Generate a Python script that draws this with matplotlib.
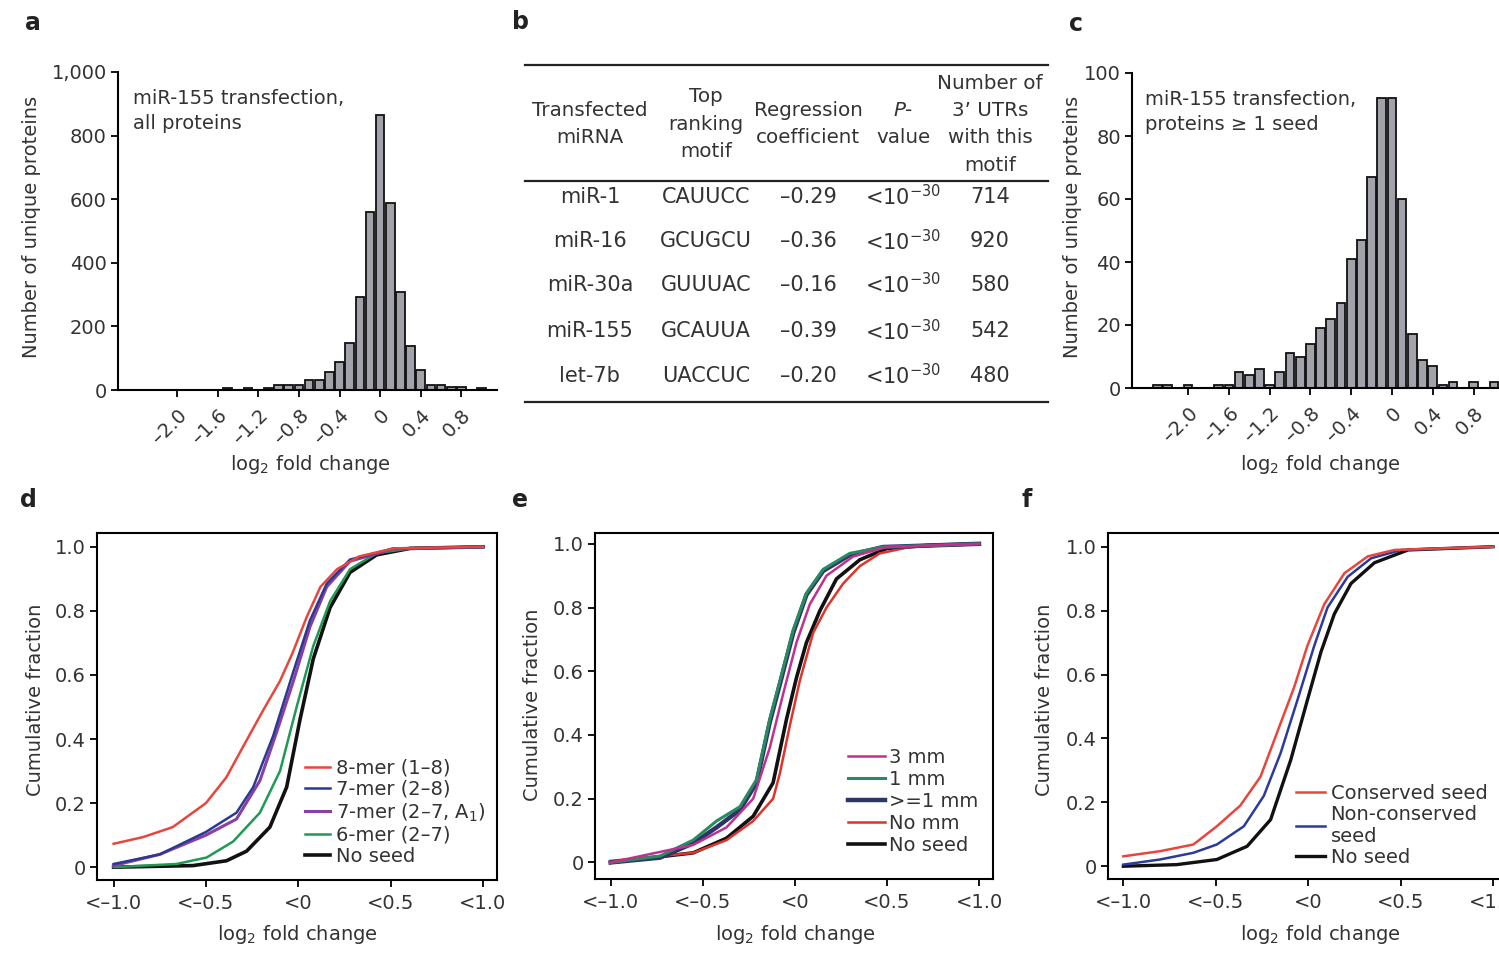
import matplotlib
matplotlib.use('Agg')
from matplotlib import pyplot as plt

# the reference text is wide and short, DejaVu Sans matches its proportions best
plt.rcParams['font.family'] = ['DejaVu Sans']
plt.rcParams['mathtext.fontset'] = 'dejavusans'
plt.rcParams['text.color'] = '#333333'
plt.rcParams['xtick.labelcolor'] = '#333333'
plt.rcParams['ytick.labelcolor'] = '#333333'
FS = 14
plt.rcParams['font.size'] = FS

W, H = 1499, 965

# ---- panel a: miR-155, all proteins ----
a_bins = [-1.5, -1.4, -1.3, -1.2, -1.1, -1.0, -0.9, -0.8, -0.7, -0.6, -0.5, -0.4, -0.3,
          -0.2, -0.1, 0.0, 0.1, 0.2, 0.3, 0.4, 0.5, 0.6, 0.7, 0.8, 0.9, 1.0]
a_counts = [5, 0, 5, 0, 5, 16, 16, 16, 31, 31, 58, 89, 148,
            293, 561, 865, 587, 309, 138, 63, 16, 16, 8, 8, 0, 5]

# ---- panel c: miR-155, proteins >= 1 seed ----
c_bins = [-2.3, -2.2, -2.1, -2.0, -1.9, -1.8, -1.7, -1.6, -1.5, -1.4, -1.3, -1.2, -1.1,
          -1.0, -0.9, -0.8, -0.7, -0.6, -0.5, -0.4, -0.3, -0.2, -0.1, 0.0, 0.1, 0.2,
          0.3, 0.4, 0.5, 0.6, 0.7, 0.8, 0.9, 1.0]
c_counts = [1, 1, 0, 1, 0, 0, 1, 1, 5, 4, 6, 1, 5,
            11, 10, 14, 19, 22, 27, 41, 47, 67, 92, 92, 60, 17,
            9, 7, 1, 2, 0, 2, 0, 2]

hist_ticks = [-2.0, -1.6, -1.2, -0.8, -0.4, 0.0, 0.4, 0.8]
hist_ticklabels = ['\u20132.0', '\u20131.6', '\u20131.2', '\u20130.8', '\u20130.4', '0', '0.4', '0.8']

# ---- panel b: table ----
tab_header = ['Transfected\nmiRNA', 'Top\nranking\nmotif', 'Regression\ncoefficient',
              '$\\it{P}$-\nvalue', 'Number of\n3\u2019 UTRs\nwith this\nmotif']
tab_mirna = ['miR-1', 'miR-16', 'miR-30a', 'miR-155', 'let-7b']
tab_motif = ['CAUUCC', 'GCUGCU', 'GUUUAC', 'GCAUUA', 'UACCUC']
tab_coef = ['\u20130.29', '\u20130.36', '\u20130.16', '\u20130.39', '\u20130.20']
tab_pval = ['<10$^{-30}$'] * 5
tab_nutr = ['714', '920', '580', '542', '480']

# ---- cumulative curves ----
cdf_ticks = [-1.0, -0.5, 0.0, 0.5, 1.0]
cdf_ticklabels = ['<\u20131.0', '<\u20130.5', '<0', '<0.5', '<1.0']
cdf_yticks = [0, 0.2, 0.4, 0.6, 0.8, 1.0]
cdf_yticklabels = ['0', '0.2', '0.4', '0.6', '0.8', '1.0']

# panel d
d_8mer_x = [-1.0, -0.84, -0.68, -0.50, -0.39, -0.30, -0.19, -0.10, -0.03, 0.045, 0.12, 0.21, 0.33, 0.52, 1.0]
d_8mer_y = [0.073, 0.094, 0.125, 0.20, 0.28, 0.375, 0.49, 0.58, 0.67, 0.78, 0.875, 0.93, 0.97, 0.995, 1.0]
d_7mer28_x = [-1.0, -0.75, -0.50, -0.335, -0.244, -0.136, -0.027, 0.063, 0.154, 0.28, 0.515, 1.0]
d_7mer28_y = [0.01, 0.04, 0.11, 0.17, 0.25, 0.41, 0.61, 0.77, 0.885, 0.96, 0.995, 1.0]
d_7merA1_x = [-1.0, -0.75, -0.50, -0.335, -0.208, -0.118, -0.027, 0.063, 0.154, 0.28, 0.515, 1.0]
d_7merA1_y = [0.005, 0.04, 0.10, 0.15, 0.27, 0.42, 0.58, 0.75, 0.875, 0.955, 0.993, 1.0]
d_6mer_x = [-1.0, -0.66, -0.497, -0.353, -0.208, -0.099, -0.009, 0.081, 0.172, 0.28, 0.425, 0.606, 1.0]
d_6mer_y = [0.0, 0.01, 0.03, 0.08, 0.17, 0.30, 0.50, 0.69, 0.83, 0.93, 0.98, 0.995, 1.0]
d_noseed_x = [-1.0, -0.57, -0.389, -0.28, -0.154, -0.063, 0.009, 0.081, 0.172, 0.28, 0.425, 0.606, 1.0]
d_noseed_y = [0.0, 0.005, 0.02, 0.05, 0.125, 0.25, 0.46, 0.65, 0.81, 0.92, 0.975, 0.995, 1.0]

# panel e
e_3mm_x = [-1.0, -0.552, -0.371, -0.226, -0.136, -0.063, 0.009, 0.081, 0.172, 0.316, 0.497, 1.0]
e_3mm_y = [0.0, 0.055, 0.11, 0.20, 0.36, 0.53, 0.69, 0.81, 0.90, 0.96, 0.99, 1.0]
e_1mm_x = [-1.0, -0.732, -0.552, -0.425, -0.298, -0.208, -0.136, -0.081, -0.009, 0.063, 0.154, 0.298, 0.479, 1.0]
e_1mm_y = [0.0, 0.02, 0.07, 0.13, 0.175, 0.26, 0.45, 0.57, 0.73, 0.845, 0.92, 0.97, 0.99, 1.0]
e_ge1mm_x = [-1.0, -0.732, -0.552, -0.425, -0.298, -0.208, -0.136, -0.081, -0.009, 0.063, 0.154, 0.298, 0.479, 1.0]
e_ge1mm_y = [0.0, 0.015, 0.06, 0.11, 0.165, 0.25, 0.44, 0.56, 0.72, 0.84, 0.915, 0.965, 0.99, 1.0]
e_nomm_x = [-1.0, -0.552, -0.371, -0.226, -0.118, -0.081, -0.027, 0.027, 0.099, 0.172, 0.262, 0.353, 0.461, 0.624, 1.0]
e_nomm_y = [0.005, 0.03, 0.07, 0.13, 0.20, 0.28, 0.43, 0.57, 0.72, 0.80, 0.875, 0.93, 0.97, 0.99, 1.0]
e_noseed_x = [-1.0, -0.552, -0.371, -0.226, -0.118, -0.045, 0.009, 0.063, 0.136, 0.226, 0.353, 0.497, 0.714, 1.0]
e_noseed_y = [0.0, 0.03, 0.076, 0.145, 0.25, 0.45, 0.58, 0.69, 0.79, 0.89, 0.95, 0.985, 0.995, 1.0]

# panel f
f_cons_x = [-1.0, -0.802, -0.621, -0.494, -0.367, -0.258, -0.167, -0.076, -0.004, 0.087, 0.196, 0.323, 0.468, 1.0]
f_cons_y = [0.031, 0.047, 0.068, 0.125, 0.19, 0.28, 0.42, 0.56, 0.69, 0.82, 0.917, 0.97, 0.99, 1.0]
f_noncons_x = [-1.0, -0.802, -0.621, -0.494, -0.348, -0.240, -0.149, -0.058, 0.033, 0.105, 0.214, 0.341, 0.505, 1.0]
f_noncons_y = [0.005, 0.021, 0.042, 0.068, 0.125, 0.22, 0.354, 0.52, 0.69, 0.81, 0.906, 0.964, 0.99, 1.0]
f_noseed_x = [-1.0, -0.711, -0.494, -0.330, -0.203, -0.094, -0.004, 0.069, 0.142, 0.232, 0.359, 0.541, 1.0]
f_noseed_y = [0.0, 0.005, 0.021, 0.0625, 0.146, 0.333, 0.52, 0.67, 0.79, 0.885, 0.95, 0.99, 1.0]


def box(x0, y0, x1, y1):
    """pixel box (top-left origin) -> figure fraction rect"""
    return [x0 / W, 1 - y1 / H, (x1 - x0) / W, (y1 - y0) / H]


def put(x, y, s, **kw):
    kw.setdefault('ha', 'center')
    kw.setdefault('va', 'center')
    fig.text(x / W, 1 - y / H, s, **kw)


def hist_panel(rect, bins, counts, xlim, ylim, yticks, yticklabels):
    ax = fig.add_axes(rect)
    ax.bar(bins, counts, width=0.085, color='#a2a2ab', edgecolor='#111111', linewidth=1.3)
    ax.set_xlim(*xlim)
    ax.set_ylim(*ylim)
    for side in ('top', 'right'):
        ax.spines[side].set_visible(False)
    for side in ('left', 'bottom'):
        ax.spines[side].set_linewidth(1.5)
    ax.set_xticks(hist_ticks)
    ax.set_xticklabels(hist_ticklabels, rotation=45, ha='right', va='top', rotation_mode='anchor')
    ax.set_yticks(yticks)
    ax.set_yticklabels(yticklabels)
    ax.tick_params(direction='out', length=5, width=1.3, labelsize=FS, pad=3)
    ax.tick_params(axis='x', pad=6)
    return ax


def cdf_panel(rect, xlim, ylim):
    ax = fig.add_axes(rect)
    ax.set_xlim(*xlim)
    ax.set_ylim(*ylim)
    for side in ax.spines:
        ax.spines[side].set_linewidth(1.5)
    ax.set_xticks(cdf_ticks)
    ax.set_xticklabels(cdf_ticklabels)
    ax.set_yticks(cdf_yticks)
    ax.set_yticklabels(cdf_yticklabels)
    ax.tick_params(direction='out', length=5, width=1.3, labelsize=FS, pad=3)
    ax.tick_params(axis='x', pad=5)
    return ax


fig = plt.figure(figsize=(W / 100, H / 100), dpi=100)

# a
ax_a = hist_panel(box(118, 72, 497, 390), a_bins, a_counts, (-2.58, 1.15), (0, 1000),
                  [0, 200, 400, 600, 800, 1000], ['0', '200', '400', '600', '800', '1,000'])
put(133, 111, 'miR-155 transfection,\nall proteins', ha='left', linespacing=1.45)
put(32, 227, 'Number of unique proteins', rotation=90)
put(310, 464, r'log$_2$ fold change')

# c
ax_c = hist_panel(box(1132, 73, 1499, 388), c_bins, c_counts, (-2.55, 1.05), (0, 100),
                  [0, 20, 40, 60, 80, 100], ['0', '20', '40', '60', '80', '100'])
put(1145, 112, 'miR-155 transfection,\nproteins \u2265 1 seed', ha='left', linespacing=1.4)
put(1072, 227, 'Number of unique proteins', rotation=90)
put(1320, 464, r'log$_2$ fold change')

# b: table
ax_b = fig.add_axes(box(525, 60, 1048, 405))
ax_b.set_xlim(0, 1)
ax_b.set_ylim(1, 0)
ax_b.axis('off')
col_x = [0.124, 0.346, 0.541, 0.723, 0.889]
for yy in (0.0145, 0.351, 0.991):
    ax_b.plot([0, 1], [yy, yy], color='#222222', lw=1.6, clip_on=False)
for cx, txt in zip(col_x, tab_header):
    ax_b.text(cx, 0.186, txt, ha='center', va='center', linespacing=1.55, fontsize=14.3)
row_y = [0.397, 0.525, 0.652, 0.786, 0.916]
for i, ry in enumerate(row_y):
    for cx, txt in zip(col_x, [tab_mirna[i], tab_motif[i], tab_coef[i], tab_pval[i], tab_nutr[i]]):
        ax_b.text(cx, ry, txt, ha='center', va='center', fontsize=15)

leg_kw = dict(loc='upper left', frameon=False, borderpad=0, borderaxespad=0, fontsize=FS)

# d
ax_d = cdf_panel(box(97, 533, 497, 880), (-1.09, 1.076), (-0.04, 1.043))
ax_d.plot(d_noseed_x, d_noseed_y, color='#111111', lw=2.6, label='No seed')
ax_d.plot(d_6mer_x, d_6mer_y, color='#1f9a55', lw=1.8, label='6-mer (2\u20137)')
ax_d.plot(d_7merA1_x, d_7merA1_y, color='#8a3fa5', lw=2.2, label='7-mer (2\u20137, A$_1$)')
ax_d.plot(d_7mer28_x, d_7mer28_y, color='#2a3a8f', lw=1.8, label='7-mer (2\u20138)')
ax_d.plot(d_8mer_x, d_8mer_y, color='#e8453c', lw=1.8, label='8-mer (1\u20138)')
h, l = ax_d.get_legend_handles_labels()
ax_d.legend(h[::-1], l[::-1], bbox_to_anchor=(0.52, 0.35), handlelength=1.3,
            handletextpad=0.3, labelspacing=0.12, **leg_kw)
put(36, 700, 'Cumulative fraction', rotation=90)
put(297, 935, r'log$_2$ fold change')

# e
ax_e = cdf_panel(box(595, 533, 993, 879), (-1.085, 1.076), (-0.052, 1.034))
ax_e.plot(e_noseed_x, e_noseed_y, color='#111111', lw=2.6, label='No seed')
ax_e.plot(e_nomm_x, e_nomm_y, color='#e0332b', lw=1.8, label='No mm')
ax_e.plot(e_ge1mm_x, e_ge1mm_y, color='#2c3568', lw=3.2, label='>=1 mm')
ax_e.plot(e_1mm_x, e_1mm_y, color='#2a8a60', lw=2.2, label='1 mm')
ax_e.plot(e_3mm_x, e_3mm_y, color='#c0308f', lw=1.8, label='3 mm')
h, l = ax_e.get_legend_handles_labels()
ax_e.legend(h[::-1], l[::-1], bbox_to_anchor=(0.635, 0.378), handlelength=1.9,
            handletextpad=0.2, labelspacing=0.15, **leg_kw)
put(532, 705, 'Cumulative fraction', rotation=90)
put(795, 935, r'log$_2$ fold change')

# f
ax_f = cdf_panel(box(1108, 533, 1507, 879), (-1.083, 1.076), (-0.04, 1.043))
ax_f.plot(f_noseed_x, f_noseed_y, color='#111111', lw=2.4, label='No seed')
ax_f.plot(f_noncons_x, f_noncons_y, color='#2b3b9a', lw=1.8, label='Non-conserved\nseed')
ax_f.plot(f_cons_x, f_cons_y, color='#e8453c', lw=1.8, label='Conserved seed')
h, l = ax_f.get_legend_handles_labels()
ax_f.legend(h[::-1], l[::-1], bbox_to_anchor=(0.47, 0.275), handlelength=1.5,
            handletextpad=0.3, labelspacing=0.1, **leg_kw)
put(1045, 700, 'Cumulative fraction', rotation=90)
put(1320, 935, r'log$_2$ fold change')

# panel letters
for x, y, s in [(33, 23, 'a'), (521, 22, 'b'), (1076, 24, 'c'),
                (28, 500, 'd'), (520, 500, 'e'), (1027, 500, 'f')]:
    put(x, y, s, fontsize=17, fontweight='bold', color='#222222')

fig.savefig('out.png', dpi=100)
